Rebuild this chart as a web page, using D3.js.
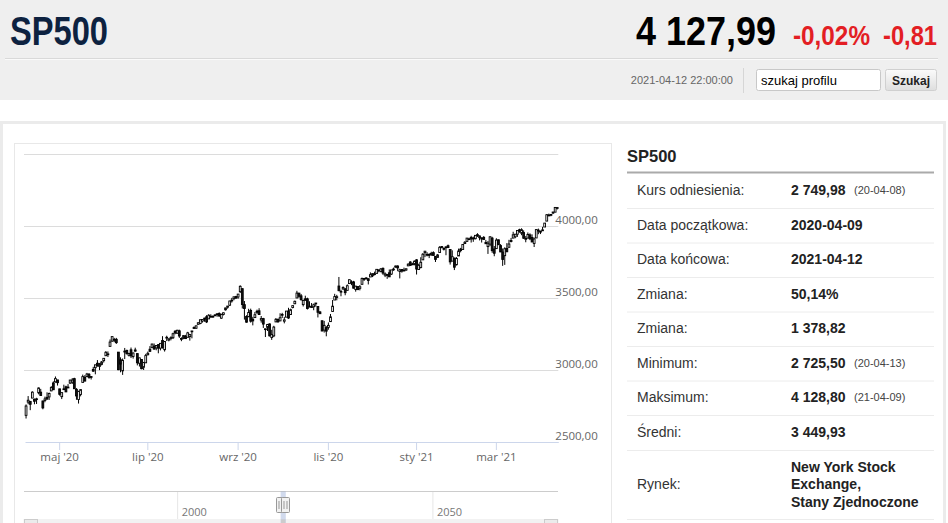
<!DOCTYPE html>
<html>
<head>
<meta charset="utf-8">
<script src="https://cdn.jsdelivr.net/npm/d3@7"></script>
<style>
  body { margin: 0; background: #fff; }
  svg { display: block; }
</style>
</head>
<body>
<script>
// SP500 daily candles, 2020-04-08 .. 2021-04-12, [open, high, low, close]
var prices = [
  // kwi 2020
  [2685,2761,2663,2750],[2777,2819,2762,2790],[2782,2782,2721,2762],[2805,2852,2805,2846],
  [2796,2802,2762,2783],[2799,2807,2764,2800],[2842,2879,2831,2875],[2846,2869,2820,2823],
  [2785,2786,2727,2737],[2788,2815,2776,2799],[2810,2845,2794,2798],[2813,2843,2792,2837],
  [2855,2888,2853,2878],[2910,2921,2861,2863],[2918,2955,2912,2940],[2931,2931,2892,2912],
  // maj
  [2869,2869,2822,2831],[2815,2844,2798,2843],[2869,2898,2864,2868],[2883,2891,2848,2848],
  [2878,2902,2876,2881],[2909,2932,2903,2930],[2915,2944,2903,2930],[2940,2946,2870,2870],
  [2866,2874,2793,2820],[2795,2853,2767,2853],[2830,2865,2817,2864],[2914,2968,2914,2954],
  [2949,2964,2922,2923],[2954,2980,2954,2972],[2970,2979,2939,2949],[2948,2957,2934,2955],
  [3004,3022,2988,2992],[3016,3036,2970,3036],[3047,3069,3023,3030],[3025,3049,2999,3044],
  // cze
  [3039,3062,3032,3056],[3065,3081,3052,3081],[3099,3131,3099,3123],[3112,3129,3090,3112],
  [3164,3212,3164,3194],[3200,3233,3196,3232],[3213,3223,3193,3207],[3213,3223,3181,3190],
  [3124,3124,2999,3002],[3071,3088,2984,3041],[2994,3080,2966,3067],[3131,3153,3076,3125],
  [3136,3141,3108,3113],[3102,3120,3094,3115],[3140,3156,3083,3098],[3094,3121,3079,3118],
  [3139,3155,3127,3131],[3114,3115,3032,3050],[3047,3086,3024,3084],[3073,3074,3005,3009],
  [3019,3054,3000,3053],[3050,3112,3048,3100],
  // lip
  [3106,3128,3101,3116],[3144,3166,3125,3130],[3155,3183,3155,3180],[3166,3184,3143,3145],
  [3153,3172,3137,3170],[3176,3180,3116,3152],[3152,3187,3136,3185],[3205,3235,3149,3155],
  [3141,3201,3128,3198],[3226,3238,3201,3227],[3208,3220,3199,3216],[3224,3234,3206,3225],
  [3224,3259,3215,3252],[3269,3277,3248,3257],[3255,3279,3253,3276],[3272,3280,3223,3236],
  [3219,3227,3200,3216],[3220,3241,3214,3239],[3234,3244,3216,3218],[3227,3265,3227,3258],
  [3232,3251,3204,3246],[3270,3272,3220,3271],
  // sie
  [3288,3303,3285,3295],[3290,3307,3286,3307],[3317,3331,3317,3328],[3323,3351,3318,3349],
  [3340,3353,3329,3351],[3356,3363,3335,3360],[3370,3381,3326,3334],[3355,3388,3355,3380],
  [3373,3387,3363,3373],[3369,3379,3362,3373],[3381,3388,3379,3382],[3387,3395,3370,3390],
  [3393,3400,3370,3375],[3360,3391,3355,3386],[3386,3400,3379,3397],[3418,3432,3413,3431],
  [3436,3444,3426,3444],[3450,3481,3444,3479],[3485,3501,3468,3485],[3495,3509,3484,3508],
  [3510,3515,3493,3500],
  // wrz
  [3507,3528,3495,3527],[3544,3588,3535,3581],[3565,3565,3427,3455],[3454,3479,3350,3427],
  [3372,3380,3329,3332],[3370,3425,3367,3399],[3413,3426,3329,3339],[3353,3369,3310,3341],
  [3364,3403,3364,3384],[3408,3419,3389,3401],[3411,3429,3384,3385],[3347,3375,3329,3357],
  [3357,3362,3292,3319],[3286,3286,3229,3281],[3296,3320,3271,3316],[3320,3323,3233,3237],
  [3226,3279,3209,3247],[3237,3307,3228,3298],[3334,3361,3333,3352],[3351,3358,3328,3335],
  [3341,3394,3340,3363],
  // paź
  [3386,3397,3361,3381],[3339,3369,3324,3348],[3367,3410,3367,3409],[3409,3432,3355,3361],
  [3385,3426,3385,3419],[3434,3447,3428,3447],[3460,3482,3458,3477],[3500,3550,3500,3534],
  [3534,3534,3501,3512],[3515,3528,3481,3489],[3454,3489,3441,3483],[3494,3516,3484,3484],
  [3494,3502,3420,3427],[3439,3477,3436,3443],[3440,3465,3433,3436],[3439,3461,3415,3453],
  [3465,3466,3440,3465],[3441,3441,3365,3401],[3403,3410,3389,3391],[3342,3342,3269,3271],
  [3277,3341,3260,3310],[3294,3305,3234,3270],
  // lis
  [3296,3330,3280,3310],[3336,3389,3336,3369],[3406,3486,3405,3443],[3486,3529,3486,3510],
  [3508,3522,3484,3509],[3583,3646,3547,3551],[3543,3557,3512,3546],[3563,3581,3557,3573],
  [3563,3569,3519,3537],[3553,3594,3553,3585],[3600,3629,3600,3627],[3610,3623,3589,3610],
  [3612,3619,3567,3568],[3559,3585,3544,3582],[3579,3581,3557,3558],[3567,3590,3553,3578],
  [3595,3642,3595,3635],[3636,3636,3618,3630],[3639,3644,3629,3638],[3634,3634,3594,3622],
  // gru
  [3646,3678,3646,3662],[3654,3671,3645,3669],[3668,3683,3657,3667],[3671,3699,3671,3699],
  [3695,3697,3679,3692],[3683,3708,3679,3702],[3706,3712,3661,3673],[3659,3678,3645,3668],
  [3656,3666,3633,3663],[3675,3698,3646,3647],[3666,3695,3660,3695],[3696,3711,3689,3701],
  [3714,3725,3711,3722],[3722,3727,3686,3709],[3684,3703,3636,3695],[3698,3698,3676,3687],
  [3693,3711,3689,3690],[3694,3704,3689,3703],[3723,3741,3723,3735],[3750,3756,3723,3727],
  [3736,3745,3730,3732],[3733,3760,3727,3756],
  // sty 2021
  [3765,3770,3663,3701],[3698,3738,3695,3727],[3712,3783,3705,3748],[3765,3812,3765,3804],
  [3815,3827,3784,3825],[3803,3818,3789,3800],[3802,3811,3777,3801],[3802,3821,3792,3810],
  [3815,3824,3793,3796],[3789,3789,3750,3768],[3782,3805,3780,3799],[3816,3860,3816,3852],
  [3857,3861,3845,3853],[3844,3852,3830,3841],[3852,3859,3797,3855],[3863,3871,3848,3850],
  [3837,3837,3732,3751],[3756,3831,3756,3787],[3778,3778,3694,3714],
  // lut
  [3731,3784,3726,3774],[3792,3843,3792,3826],[3840,3848,3817,3830],[3837,3872,3837,3872],
  [3878,3895,3875,3887],[3893,3916,3893,3916],[3910,3918,3903,3911],[3921,3932,3885,3910],
  [3916,3926,3890,3916],[3912,3935,3907,3935],[3940,3950,3924,3933],[3919,3934,3900,3931],
  [3916,3922,3885,3914],[3921,3930,3903,3907],[3886,3903,3875,3877],[3857,3896,3806,3881],
  [3874,3929,3860,3925],[3916,3925,3814,3829],[3840,3861,3790,3811],
  // mar
  [3843,3915,3843,3902],[3904,3906,3869,3870],[3864,3874,3819,3820],[3819,3844,3723,3768],
  [3794,3852,3730,3842],[3844,3881,3819,3821],[3852,3904,3852,3875],[3892,3917,3886,3899],
  [3916,3960,3916,3939],[3925,3945,3915,3943],[3943,3970,3924,3969],[3974,3981,3953,3963],
  [3950,3984,3936,3974],[3954,3970,3911,3915],[3913,3930,3887,3913],[3916,3955,3914,3941],
  [3938,3949,3902,3911],[3920,3942,3889,3889],[3879,3920,3854,3910],[3917,3978,3917,3975],
  [3969,3982,3943,3971],[3963,3968,3944,3959],[3967,3994,3967,3973],
  // kwi
  [3993,4021,3993,4020],[4034,4083,4034,4078],[4076,4086,4068,4074],[4074,4083,4068,4080],
  [4090,4098,4083,4097],[4096,4129,4096,4129],[4125,4132,4115,4128]
];

// market closed on these weekdays
var holidays = ["2020-04-10","2020-05-25","2020-07-03","2020-09-07","2020-11-26",
  "2020-12-25","2021-01-01","2021-01-18","2021-02-15","2021-04-02"];

var yTicks = [2500, 3000, 3500, 4000, 4500];
var tickMonths = ["2020-05","2020-07","2020-09","2020-11","2021-01","2021-03"];
var monthNames = ["sty","lut","mar","kwi","maj","cze","lip","sie","wrz","paź","lis","gru"];
var navTicks = [2000, 2050];

var statLabels = ["Kurs odniesienia:","Data początkowa:","Data końcowa:","Zmiana:","Zmiana:",
  "Minimum:","Maksimum:","Średni:","Rynek:"];
var statValues = ["2 749,98","2020-04-09","2021-04-12","50,14%","1 378,82",
  "2 725,50","4 128,80","3 449,93",["New York Stock","Exchange,","Stany Zjednoczone"]];
var statDates = ["(20-04-08)","","","","","(20-04-13)","(21-04-09)","",""];

// trading days
var fmtDay = d3.timeFormat("%Y-%m-%d");
var days = d3.timeDay.range(new Date(2020, 3, 8), new Date(2021, 3, 13))
  .filter(function(d) { return d.getDay() > 0 && d.getDay() < 6 && holidays.indexOf(fmtDay(d)) < 0; })
  .map(fmtDay);

var data = days.map(function(d, i) {
  return {date: d, o: prices[i][0], h: prices[i][1], l: prices[i][2], c: prices[i][3]};
});

var W = 948, H = 523;
var svg = d3.select("body").append("svg").attr("width", W).attr("height", H);

var arial = "'Liberation Sans', Arial, sans-serif";
var hc = "'Open Sans', 'DejaVu Sans', sans-serif";

// ---- header ----
svg.append("rect").attr("x", 0).attr("y", 0).attr("width", W).attr("height", 100).attr("fill", "#efefef");
svg.append("line").attr("x1", 5).attr("x2", 938).attr("y1", 58.5).attr("y2", 58.5)
  .attr("stroke", "#d9d9d9").attr("stroke-width", 1);
svg.append("line").attr("x1", 5).attr("x2", 938).attr("y1", 59.5).attr("y2", 59.5)
  .attr("stroke", "#fafafa").attr("stroke-width", 1);

// narrow headline text: squeeze glyphs to the widths of the original
function headline(str, x0, width, size, color) {
  svg.append("text").attr("x", x0).attr("y", 45)
    .attr("textLength", width).attr("lengthAdjust", "spacingAndGlyphs")
    .style("font-family", arial).style("font-weight", "bold")
    .style("font-size", size + "px").style("fill", color).text(str);
}
headline("SP500", 10, 98, 40, "#0d2240");
headline("4 127,99", 636, 140, 40, "#000");
headline("-0,02%", 793, 77, 27.5, "#e31e24");
headline("-0,81", 883, 54, 27.5, "#e31e24");

svg.append("text").attr("x", 733).attr("y", 84).attr("text-anchor", "end")
  .style("font-family", arial).style("font-size", "11px").style("fill", "#666")
  .text("2021-04-12 22:00:00");
svg.append("line").attr("x1", 743.5).attr("x2", 743.5).attr("y1", 68).attr("y2", 93)
  .attr("stroke", "#d6d6d6");
svg.append("rect").attr("x", 756.5).attr("y", 69.5).attr("width", 124).attr("height", 21).attr("rx", 2)
  .attr("fill", "#fff").attr("stroke", "#c8c8c8");
svg.append("text").attr("x", 761).attr("y", 84.5)
  .style("font-family", arial).style("font-size", "13px").style("fill", "#000").text("szukaj profilu");

var grad = svg.append("defs").append("linearGradient").attr("id", "btn")
  .attr("x1", 0).attr("x2", 0).attr("y1", 0).attr("y2", 1);
grad.append("stop").attr("offset", "0%").attr("stop-color", "#fbfbfb");
grad.append("stop").attr("offset", "100%").attr("stop-color", "#dedede");
svg.append("rect").attr("x", 885.5).attr("y", 69.5).attr("width", 51).attr("height", 21).attr("rx", 2)
  .attr("fill", "url(#btn)").attr("stroke", "#d0d0d0");
svg.append("text").attr("x", 911).attr("y", 84.5).attr("text-anchor", "middle")
  .style("font-family", arial).style("font-weight", "bold").style("font-size", "12px")
  .style("fill", "#222").text("Szukaj");

// ---- panels ----
svg.append("rect").attr("x", 1.5).attr("y", 122.5).attr("width", 943).attr("height", 430)
  .attr("fill", "#fff").attr("stroke", "#ebebeb").attr("stroke-width", 3);
svg.append("rect").attr("x", 14.5).attr("y", 143.5).attr("width", 597).attr("height", 400)
  .attr("fill", "#fff").attr("stroke", "#e8e8e8");

// ---- candlestick chart ----
var x = d3.scaleBand().domain(days).range([25, 558.3]).padding(0);
var y = d3.scaleLinear().domain([2500, 4500]).range([442, 154]);

var pl = d3.formatLocale({decimal: ",", thousands: "", grouping: [3]});
var fmtY = pl.format(".2f");

var yAxis = d3.axisRight(y)
  .tickValues(yTicks)
  .tickSize(-(558.3 - 24))
  .tickPadding(-3)
  .tickFormat(function(d) { return d === 4500 ? "" : fmtY(d); });

var gy = svg.append("g").attr("transform", "translate(558.3,0)").call(yAxis);
gy.select(".domain").remove();
gy.selectAll(".tick line").attr("stroke", "#dcdcdc")
  .filter(function(d) { return d === 2500; }).remove();
gy.selectAll(".tick text").attr("dy", -3).attr("text-anchor", "start")
  .style("font-family", hc).style("font-size", "11.5px").style("fill", "#666");

var firstOfMonth = tickMonths.map(function(m) {
  return days.find(function(d) { return d.slice(0, 7) === m; });
});

var xAxis = d3.axisBottom(x)
  .tickValues(firstOfMonth)
  .tickSize(8)
  .tickSizeOuter(0)
  .tickFormat(function(d) {
    return monthNames[+d.slice(5, 7) - 1] + " '" + d.slice(2, 4);
  });

var gx = svg.append("g").attr("transform", "translate(0,442)").call(xAxis);
gx.select(".domain").attr("stroke", "#ccd6eb");
gx.selectAll(".tick line").attr("stroke", "#ccd6eb");
gx.selectAll(".tick text").style("font-family", hc).style("font-size", "11.5px").style("fill", "#666");

var bw = 1.8;
var candles = svg.append("g").selectAll("g.candle")
  .data(data)
  .enter().append("g")
  .attr("class", "candle");

candles.append("line")
  .attr("x1", function(d) { return x(d.date) + x.bandwidth() / 2; })
  .attr("x2", function(d) { return x(d.date) + x.bandwidth() / 2; })
  .attr("y1", function(d) { return y(d.h); })
  .attr("y2", function(d) { return y(d.l); })
  .attr("stroke", "#000").attr("stroke-width", 1);

candles.append("rect")
  .attr("x", function(d) { return x(d.date) + x.bandwidth() / 2 - bw / 2; })
  .attr("width", bw)
  .attr("y", function(d) { return y(Math.max(d.o, d.c)); })
  .attr("height", function(d) { return Math.max(0.8, Math.abs(y(d.o) - y(d.c))); })
  .attr("fill", function(d) { return d.c >= d.o ? "#fff" : "#111"; })
  .attr("stroke", "#000").attr("stroke-width", 0.9);

// ---- navigator ----
var navX = d3.scaleLinear().domain([1970, 2074.6]).range([24, 558]);

svg.append("g").attr("transform", "translate(0,491)")
  .call(d3.axisBottom(navX).tickValues(navTicks).tickSize(32).tickFormat(d3.format("d")))
  .call(function(g) {
    g.select(".domain").remove();
    g.selectAll(".tick line").attr("stroke", "#e6e6e6");
    g.selectAll(".tick text").attr("x", 4).attr("y", 25).attr("dy", 0).attr("text-anchor", "start")
      .style("font-family", hc).style("font-size", "11px").style("fill", "#777");
  });

svg.append("line").attr("x1", 24).attr("x2", 558).attr("y1", 491.5).attr("y2", 491.5)
  .attr("stroke", "#cccccc");

// scrollbar
svg.append("rect").attr("x", 24).attr("y", 519.5).attr("width", 534).attr("height", 14)
  .attr("fill", "#f2f2f2").attr("stroke", "#f2f2f2");
svg.append("rect").attr("x", 24.5).attr("y", 519.5).attr("width", 13).attr("height", 14)
  .attr("fill", "#ebebeb").attr("stroke", "#cccccc");
svg.append("rect").attr("x", 544.5).attr("y", 519.5).attr("width", 13).attr("height", 14)
  .attr("fill", "#ebebeb").attr("stroke", "#cccccc");

// selected range (Apr 2020 .. Apr 2021)
var selFrom = 2020.27, selTo = 2021.28;
svg.append("rect").attr("x", navX(selFrom)).attr("y", 491.5)
  .attr("width", navX(selTo) - navX(selFrom)).attr("height", 32)
  .attr("fill", "rgba(102,133,194,0.3)");
svg.append("rect").attr("x", navX(selFrom) + 0.5).attr("y", 519.5)
  .attr("width", navX(selTo) - navX(selFrom) - 1).attr("height", 14)
  .attr("fill", "#cccccc");

[selFrom, selTo].forEach(function(v) {
  var cx = Math.round(navX(v));
  svg.append("rect").attr("x", cx - 4.5).attr("y", 497.5).attr("width", 8).attr("height", 15)
    .attr("rx", 1).attr("fill", "#f2f2f2").attr("stroke", "#999");
  [-1.5, 1.5].forEach(function(o) {
    svg.append("line").attr("x1", cx + o - 0.5).attr("x2", cx + o - 0.5).attr("y1", 501).attr("y2", 509)
      .attr("stroke", "#999");
  });
});

// ---- stats table ----
svg.append("text").attr("x", 627).attr("y", 162)
  .style("font-family", arial).style("font-weight", "bold").style("font-size", "16.5px")
  .style("fill", "#222").text("SP500");
svg.append("line").attr("x1", 627).attr("x2", 934).attr("y1", 172.5).attr("y2", 172.5)
  .attr("stroke", "#aaaaaa").attr("stroke-width", 2);

var rowBase = [195.3, 229.7, 264.3, 298.7, 333.2, 367.7, 402.2, 436.7, 489];
var rowLine = [208.5, 243, 277.5, 312, 346.5, 381, 415.5, 450.5, 519.5];

var rows = svg.append("g").selectAll("g.row")
  .data(statLabels)
  .enter().append("g").attr("class", "row");

rows.append("line")
  .attr("x1", 627).attr("x2", 934)
  .attr("y1", function(d, i) { return rowLine[i]; })
  .attr("y2", function(d, i) { return rowLine[i]; })
  .attr("stroke", "#ececec");

rows.append("text")
  .attr("x", 637).attr("y", function(d, i) { return rowBase[i]; })
  .style("font-family", arial).style("font-size", "14px").style("fill", "#333")
  .text(function(d) { return d; });

rows.each(function(d, i) {
  var v = statValues[i];
  var lines = Array.isArray(v) ? v : [v];
  var t = d3.select(this).append("text")
    .attr("x", 791).attr("y", rowBase[i] - (lines.length - 1) / 2 * 17.5)
    .style("font-family", arial).style("font-weight", "bold").style("font-size", "14px")
    .style("fill", "#222");
  lines.forEach(function(s, k) {
    t.append("tspan").attr("x", 791).attr("dy", k === 0 ? 0 : 17.5).text(s);
  });
  if (statDates[i]) {
    d3.select(this).append("text").attr("x", 854).attr("y", rowBase[i] - 1)
      .style("font-family", arial).style("font-size", "11px").style("fill", "#444")
      .text(statDates[i]);
  }
});
</script>
</body>
</html>
